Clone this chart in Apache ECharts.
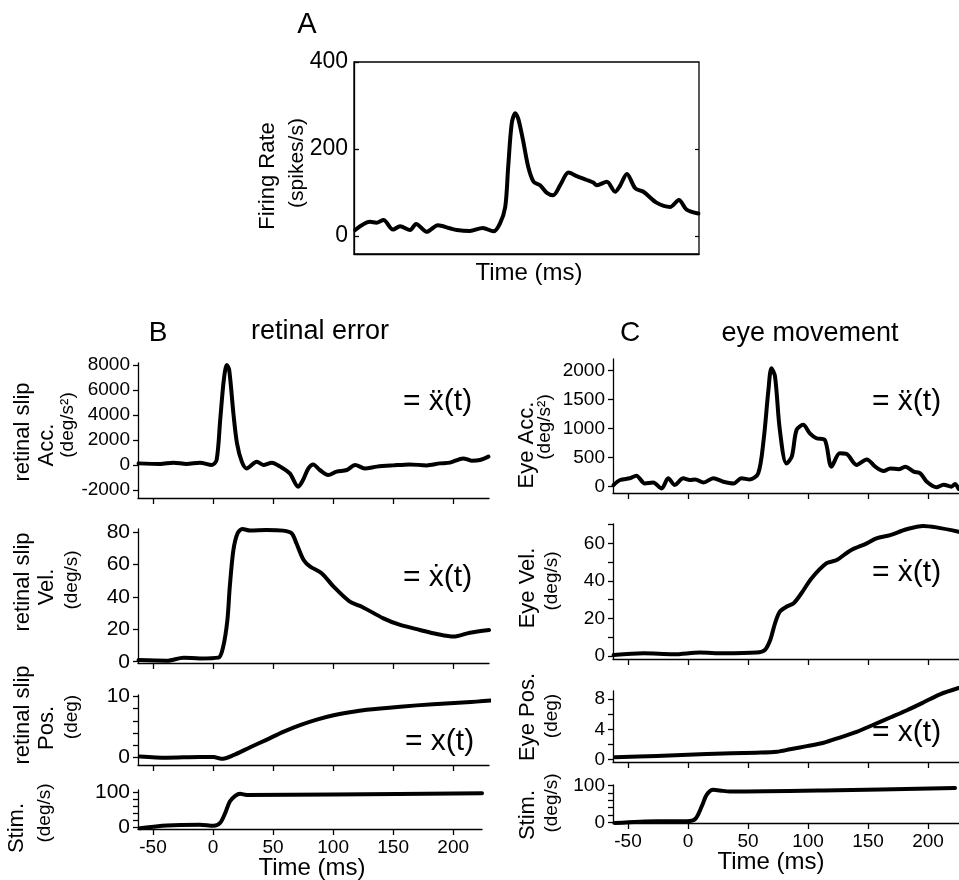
<!DOCTYPE html>
<html>
<head>
<meta charset="utf-8">
<script src="https://cdn.jsdelivr.net/npm/echarts@6/dist/echarts.min.js"></script>
<style>
  html, body { margin: 0; padding: 0; background: #fff; }
  #main { width: 959px; height: 880px; }
</style>
</head>
<body>
<div id="main"></div>
<script>
// time ticks shared by the B and C stacks
var timeTicks = [-50, 0, 50, 100, 150, 200];

// A: firing rate (spikes/s)
var aTime = [-61, -48.5, -43, -37, -29, -23, -14.5, -9.5, -0.5, 9, 19, 25, 36, 47, 56, 61.5, 66, 68.5, 71.5, 74.5, 77, 81, 85.5, 90, 95.5, 101, 106.5, 112.5, 119.5, 126.5, 135, 140.5, 143.5, 152, 159, 163, 169, 176, 183, 194, 205.5, 213, 219.5, 229.5];
var aRate = [14, 33, 31, 37, 15, 23, 14, 28, 10, 25, 18, 14, 12, 19, 11, 29, 67, 159, 259, 282, 270, 221, 159, 125, 117, 100, 94, 117, 146, 138, 129, 123, 117, 125, 102, 115, 143, 110, 102, 77, 67, 83, 61, 52];
var aTicks = [0, 200, 400];

// B: retinal error
var bAccTime = [-62, -44, -33, -22, -11, -1, 3, 6, 9, 11.5, 13.5, 17, 20, 24, 28, 36.5, 42, 49, 56, 64, 71, 75, 79.5, 83.5, 89, 96, 103, 111.5, 118.5, 126.5, 136.5, 150, 164, 178, 189, 197.5, 208.5, 215.5, 222.5, 229.5];
var bAcc = [130, 80, 190, 80, 190, 0, 400, 3600, 6800, 8000, 7600, 4130, 1730, 270, -270, 270, 0, 190, -130, -670, -1730, -1200, -270, 50, -400, -800, -530, -400, 0, -270, -130, -30, 50, -30, 130, 190, 530, 350, 400, 670];
var bAccTicks = [-2000, 0, 2000, 4000, 6000, 8000];

var bVelTime = [-62, -38.5, -24.5, -11, 4.5, 8.5, 12, 14, 17, 20.5, 24.5, 31, 44.5, 58.5, 65.5, 69.5, 75.5, 81, 90.5, 100.5, 114, 124, 142, 156, 172.5, 186.5, 200.5, 214, 230];
var bVel = [1, 0.6, 2.5, 2, 2.5, 9.3, 25.8, 46.4, 69, 79.4, 82, 81, 81.4, 81, 79.4, 73.2, 62.9, 58.8, 54.7, 46.4, 37.1, 34, 26.8, 22.7, 19.6, 17.1, 15.5, 17.9, 19.6];
var bVelTicks = [0, 20, 40, 60, 80];

var bPosTime = [-61, -38.5, -11, 0.5, 7, 17, 31, 44.5, 58.5, 72.5, 86.5, 100.5, 114, 128, 156, 183.5, 211.5, 232];
var bPos = [0.2, 0, 0.1, 0.1, -0.2, 0.4, 1.7, 2.9, 4.2, 5.3, 6.2, 6.9, 7.4, 7.8, 8.3, 8.7, 9, 9.3];
var bPosTicks = [0, 10];
var bPosMinor = [2, 4, 6, 8];

var bStimTime = [-61, -38.5, -11, 0.5, 6, 10, 14, 18.5, 22.5, 28, 100, 224];
var bStim = [-3, 5, 7, 4, 13, 40, 74, 90, 96, 93, 94, 98];
var stimTicks = [0, 100];
var stimMinor = [20, 40, 60, 80];

// C: eye movement
var cAccTime = [-62, -56.5, -48.5, -43, -36, -29, -22, -16.5, -11, -4, 1.5, 6, 13, 21, 29.5, 38, 44.5, 51.5, 58.5, 63, 67, 69.5, 72.5, 76.5, 82, 86.5, 90.5, 96, 101.5, 107, 114, 119.5, 126.5, 132, 140.5, 149, 156, 163, 168.5, 175.5, 181, 188, 193.5, 199, 207, 213, 219.5, 222.5, 225.5];
var cAcc = [30, 115, 145, 190, 55, 70, -30, 145, 30, 145, 115, 125, 70, 145, 85, 55, 145, 125, 230, 805, 1665, 2040, 1900, 980, 400, 520, 980, 1065, 920, 835, 805, 345, 575, 565, 375, 470, 345, 270, 315, 300, 345, 260, 230, 85, -10, 35, 0, 45, -40];
var cAccTicks = [0, 500, 1000, 1500, 2000];

var cVelTime = [-62, -37, -12, 10, 29.5, 57, 64, 68.5, 72.5, 76.5, 82, 88, 94.5, 103, 115.5, 124, 135, 149, 157, 168.5, 182, 196, 207, 225.5];
var cVel = [0.5, 1.4, 0.9, 1.8, 1.4, 1.8, 3.2, 8.5, 17.4, 23.6, 26.2, 28.1, 33.4, 41.4, 49.4, 51.1, 56.1, 60, 62.7, 64.4, 67.5, 69.3, 68.5, 66.2];
var cVelTicks = [0, 20, 40, 60];
var cVelMinor = [10, 30, 50, 70];

var cPosTime = [-61, -26, 15.5, 57, 74, 85, 99, 113, 126.5, 140.5, 154.5, 168.5, 182, 196, 210, 225.5];
var cPos = [0.27, 0.44, 0.7, 0.88, 1.0, 1.33, 1.76, 2.2, 2.9, 3.66, 4.6, 5.57, 6.5, 7.56, 8.66, 9.5];
var cPosTicks = [0, 4, 8];
var cPosMinor = [2, 6];

var cStimTime = [-61, -26, -1, 6, 11.5, 15.5, 21, 26.5, 35, 113, 222.5];
var cStim = [-2, 3, 3, 9, 44, 75, 89, 87, 84, 87, 94];

var FONT = 'Liberation Sans, Arial, DejaVu Sans, sans-serif';
var BLACK = '#000';

function zip(t, v) {
    var out = [];
    for (var i = 0; i < t.length; i++) out.push([t[i], v[i]]);
    return out;
}

function plain(v) {
    return String(v);
}

var grids = [], xAxes = [], yAxes = [], series = [];

// one panel = grid + x axis + y axis + line; minor ticks share the y axis ticks
function addPanel(p) {
    var gi = grids.length;
    grids.push({ left: p.left, top: p.top, width: p.width, height: p.height,
        show: !!p.box, borderColor: BLACK, borderWidth: 1.3 });
    xAxes.push({
        type: 'value', gridIndex: gi, min: p.xMin, max: p.xMax,
        splitLine: { show: false },
        axisLine: { onZero: false, lineStyle: { color: BLACK, width: 1.3 } },
        axisTick: { show: !p.box, customValues: timeTicks, length: 6, lineStyle: { color: BLACK, width: 1.3 } },
        axisLabel: { show: !!p.xLabels, customValues: timeTicks, formatter: plain, color: BLACK, fontSize: 19, fontFamily: FONT, margin: 9 }
    });
    var yi = yAxes.length;
    yAxes.push({
        type: 'value', gridIndex: gi, min: p.yMin, max: p.yMax, position: 'left',
        splitLine: { show: false },
        axisLine: { onZero: false, lineStyle: { color: BLACK, width: 1.3 } },
        axisTick: { inside: !!p.box, customValues: p.ticks.concat(p.minor || []), length: p.box ? 5 : 5,
            lineStyle: { color: BLACK, width: 1.3 } },
        axisLabel: { customValues: p.ticks, formatter: plain, color: BLACK, fontSize: p.fontSize || 19, fontFamily: FONT, margin: p.box ? 6 : 8 }
    });
    if (p.box) {
        yAxes.push({
            type: 'value', gridIndex: gi, min: p.yMin, max: p.yMax, position: 'right',
            splitLine: { show: false },
            axisLine: { show: false, onZero: false },
            axisTick: { inside: true, customValues: [0, 200], length: 4, lineStyle: { color: BLACK, width: 1.2 } },
            axisLabel: { show: false }
        });
    }
    series.push({
        type: 'line', xAxisIndex: gi, yAxisIndex: yi,
        data: zip(p.t, p.v), showSymbol: false, smooth: 0.3, clip: false, silent: true,
        lineStyle: { color: BLACK, width: 4, join: 'round', cap: 'round' }
    });
}

addPanel({ left: 354, top: 62, width: 345, height: 192, xMin: -62, xMax: 230, yMin: -41, yMax: 400,
    ticks: aTicks, fontSize: 23, box: true, t: aTime, v: aRate });

addPanel({ left: 138, top: 363, width: 351, height: 135, xMin: -62.5, xMax: 230, yMin: -2640, yMax: 8160,
    ticks: bAccTicks, t: bAccTime, v: bAcc });
addPanel({ left: 138, top: 529, width: 351, height: 134, xMin: -62.5, xMax: 230, yMin: -0.8, yMax: 82,
    ticks: bVelTicks, fontSize: 21, t: bVelTime, v: bVel });
addPanel({ left: 138, top: 695, width: 351, height: 70, xMin: -62.5, xMax: 230, yMin: -1.2, yMax: 10.2,
    ticks: bPosTicks, minor: bPosMinor, fontSize: 21, t: bPosTime, v: bPos });
addPanel({ left: 138, top: 790, width: 344, height: 39, xMin: -62.5, xMax: 224, yMin: -5, yMax: 107,
    ticks: stimTicks, minor: stimMinor, fontSize: 21, xLabels: true, t: bStimTime, v: bStim });

addPanel({ left: 613, top: 359, width: 346, height: 134, xMin: -62.5, xMax: 225.8, yMin: -109, yMax: 2200,
    ticks: cAccTicks, t: cAccTime, v: cAcc });
addPanel({ left: 613, top: 524, width: 346, height: 135, xMin: -62.5, xMax: 225.8, yMin: -1.6, yMax: 70.3,
    ticks: cVelTicks, minor: cVelMinor, t: cVelTime, v: cVel });
addPanel({ left: 613, top: 691, width: 346, height: 71, xMin: -62.5, xMax: 225.8, yMin: -0.36, yMax: 9.1,
    ticks: cPosTicks, minor: cPosMinor, t: cPosTime, v: cPos });
addPanel({ left: 613, top: 785, width: 346, height: 38, xMin: -62.5, xMax: 225.8, yMin: -2, yMax: 102,
    ticks: stimTicks, minor: stimMinor, xLabels: true, t: cStimTime, v: cStim });

function txt(s, x, y, size, rot, align) {
    return {
        type: 'text', x: x, y: y, rotation: rot ? Math.PI / 2 : 0, silent: true,
        style: { text: s, fill: BLACK, fontSize: size, fontFamily: FONT,
            align: align || 'center', verticalAlign: 'middle' }
    };
}

var texts = [
    txt('A', 307, 25, 29),
    txt('Firing Rate', 268, 176, 22, true),
    txt('(spikes/s)', 297, 163, 21, true),
    txt('Time (ms)', 529, 273, 24),

    txt('B', 158, 333, 28),
    txt('retinal error', 320, 332, 27),
    txt('retinal slip', 23, 432, 22, true),
    txt('Acc.', 47, 445, 22, true),
    txt('(deg/s\u00b2)', 68, 425, 19, true),
    txt('retinal slip', 23, 582, 22, true),
    txt('Vel.', 47, 587, 22, true),
    txt('(deg/s)', 72, 580, 19, true),
    txt('retinal slip', 23, 715, 22, true),
    txt('Pos.', 47, 728, 22, true),
    txt('(deg)', 72, 717, 19, true),
    txt('Stim.', 17, 828, 22, true),
    txt('(deg/s)', 45, 813, 19, true),
    txt('Time (ms)', 312, 868, 24),
    txt('= \u1e8d(t)', 403, 402, 30, false, 'left'),
    txt('= \u1e8b(t)', 403, 578, 30, false, 'left'),
    txt('= x(t)', 405, 742, 30, false, 'left'),

    txt('C', 630, 333, 28),
    txt('eye movement', 810, 334, 27),
    txt('Eye Acc.', 527, 445, 22, true),
    txt('(deg/s\u00b2)', 545, 427, 19, true),
    txt('Eye Vel.', 528, 588, 22, true),
    txt('(deg/s)', 552, 581, 19, true),
    txt('Eye Pos.', 528, 717, 22, true),
    txt('(deg)', 552, 716, 19, true),
    txt('Stim.', 528, 815, 22, true),
    txt('(deg/s)', 552, 803, 19, true),
    txt('Time (ms)', 771, 862, 24),
    txt('= \u1e8d(t)', 872, 402, 30, false, 'left'),
    txt('= \u1e8b(t)', 872, 573, 30, false, 'left'),
    txt('= x(t)', 872, 733, 30, false, 'left')
];

var chart = echarts.init(document.getElementById('main'), null, { renderer: 'canvas' });
chart.setOption({
    backgroundColor: '#fff',
    animation: false,
    grid: grids,
    xAxis: xAxes,
    yAxis: yAxes,
    series: series,
    graphic: texts
});
</script>
</body>
</html>
